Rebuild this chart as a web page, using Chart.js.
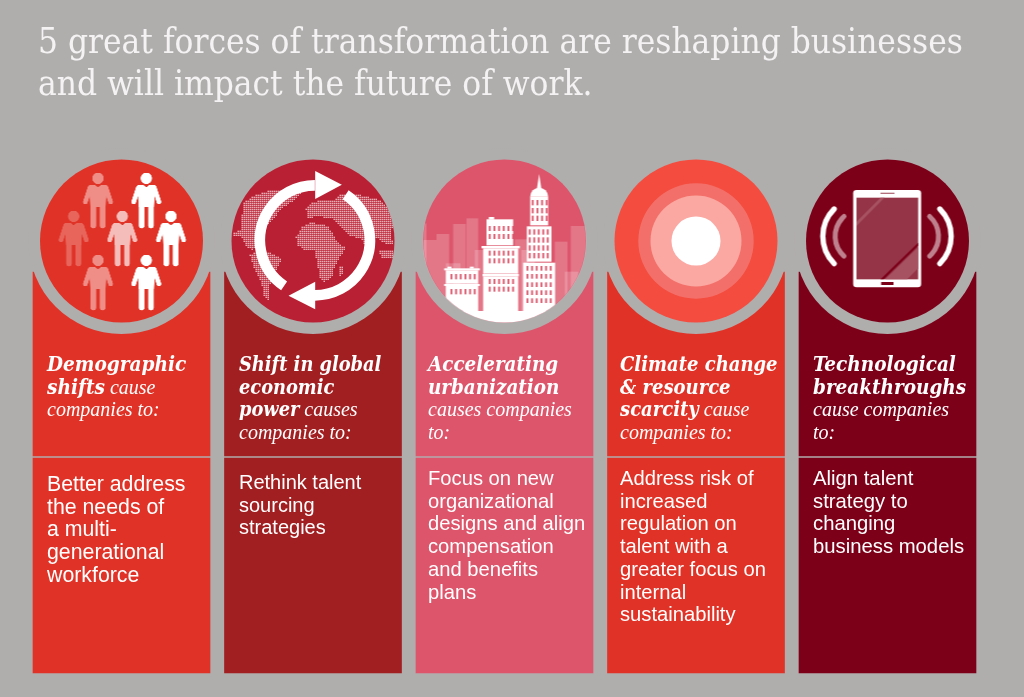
<!DOCTYPE html>
<html><head><meta charset="utf-8">
<style>html,body{margin:0;padding:0;background:#b0adad;overflow:hidden}canvas{display:block}</style>
<script src="https://cdn.jsdelivr.net/npm/chart.js@4/dist/chart.umd.min.js"></script>
</head><body>
<canvas id="c" width="1024" height="697"></canvas>
<script>
const categories = ['Demographic shifts','Shift in global economic power','Accelerating urbanization','Climate change & resource scarcity','Technological breakthroughs'];
const headerSpans = [[272,456],[272,456],[272,456],[272,456],[272,456]];
const bodySpans = [[458,673],[458,673],[458,673],[458,673],[458,673]];
const headerColors = ['#e03226','#a11e21','#dd556b','#e03226','#7d0019'];
const bodyColors = ['#e03226','#a11e21','#dd556b','#e03226','#7d0019'];
const discColors = ['#e03226','#b92033','#dd556b','#f44c3f','#7d0019'];
const discCentre = 241;
const titleLines = ['5 great forces of transformation are reshaping businesses','and will impact the future of work.'];
const headings = [
 [['Demographic',''],['shifts',' cause'],['','companies to:']],
 [['Shift in global',''],['economic',''],['power',' causes'],['','companies to:']],
 [['Accelerating',''],['urbanization',''],['','causes companies'],['','to:']],
 [['Climate change',''],['& resource',''],['scarcity',' cause'],['','companies to:']],
 [['Technological',''],['breakthroughs',''],['','cause companies'],['','to:']]
];
const bodies = [
 ['Better address','the needs of','a multi-','generational','workforce'],
 ['Rethink talent','sourcing','strategies'],
 ['Focus on new','organizational','designs and align','compensation','and benefits','plans'],
 ['Address risk of','increased','regulation on','talent with a','greater focus on','internal','sustainability'],
 ['Align talent','strategy to','changing','business models']
];

const BG='#b0adad';
function icon(cx,cy,draw){
  const cv=document.createElement('canvas');cv.width=190;cv.height=190;
  const g=cv.getContext('2d');
  g.translate(95,95);
  g.save();g.beginPath();g.arc(0,0,81.5,0,Math.PI*2);g.clip();
  g.scale(1/3,1/3);g.translate(-cx,-cy);
  draw(g);g.restore();
  return cv;
}
function person(g,x,y,a){
  const off=document.createElement('canvas');off.width=240;off.height=300;
  const o=off.getContext('2d');
  o.translate(120,60);
  o.fillStyle='#fff';o.strokeStyle='#fff';o.lineCap='round';o.lineJoin='round';
  o.beginPath();o.arc(0,0,17,0,7);o.fill();
  o.beginPath();
  o.moveTo(-27,20);o.lineTo(-10,19);o.lineTo(0,27);o.lineTo(10,19);o.lineTo(27,20);
  o.lineTo(23,85);o.lineTo(-23,85);o.closePath();o.fill();
  o.lineWidth=14;
  o.beginPath();o.moveTo(-24,28);o.lineTo(-38,71);o.stroke();
  o.beginPath();o.moveTo(24,28);o.lineTo(38,71);o.stroke();
  o.lineWidth=17;
  o.beginPath();o.moveTo(-14,80);o.lineTo(-14,142);o.stroke();
  o.beginPath();o.moveTo(14,80);o.lineTo(14,142);o.stroke();
  g.save();g.globalAlpha=a;g.drawImage(off,x-120,y-60);g.restore();
}
const peopleIcon=icon(274.5,273,g=>{
  [[204,85,.45],[349,85,1],[131,199,.25],[277,199,.68],[423,199,1],[204,331,.45],[349,331,1]].forEach(p=>person(g,p[0],p[1],p[2]));
});
function poly(g,pts){g.moveTo(pts[0],pts[1]);for(let i=2;i<pts.length;i+=2)g.lineTo(pts[i],pts[i+1]);g.closePath();}
const land=[
 [228,262,245,232,270,218,300,222,325,230,340,255,358,285,378,290,360,320,345,345,335,385,312,397,300,385,290,335,283,300,250,298,232,285],
 [258,178,275,160,300,150,345,150,360,135,420,135,480,150,510,185,520,225,510,255,520,285,495,280,470,265,440,290,420,265,395,260,375,245,352,222,335,205,290,200,262,205],
 [95,140,150,120,250,125,215,155,185,175,165,200,140,225,125,270,100,300,80,290,65,260,40,262,38,250,60,240,70,160],
 [88,315,120,300,150,310,185,325,165,365,150,400,145,450,130,440,125,400,100,350],
 [475,300,520,300,520,325,485,325],[360,350,372,350,365,380,355,378]
];
const globeIcon=icon(278.4,273,g=>{
  const off=document.createElement('canvas');off.width=600;off.height=600;
  const o=off.getContext('2d');
  o.beginPath();land.forEach(p=>poly(o,p));
  g.fillStyle='rgba(255,255,255,.72)';
  for(let x=30;x<530;x+=6)for(let y=100;y<470;y+=6){
    if(o.isPointInPath(x,y))g.fillRect(x-2,y-2,4,4);
  }
  const d=Math.PI/180,cx=284,cy=271,r=165;
  g.strokeStyle='#fff';g.lineWidth=32;
  g.beginPath();g.arc(cx,cy,r,124*d,270*d);g.stroke();
  g.beginPath();g.arc(cx,cy,r,-56*d,90*d);g.stroke();
  g.fillStyle='#fff';
  g.beginPath();poly(g,[285,63,365,104,285,147]);g.fill();
  g.beginPath();poly(g,[285,395,205,437,285,478]);g.fill();
});
const cityColor='#dd556b';
function windows(g,x0,pitch,n,rows,h){
  g.fillStyle=cityColor;
  rows.forEach(y=>{for(let i=0;i<n;i++)g.fillRect(x0+i*pitch,y,5.5,h);});
  g.fillStyle='#fff';
}
const cityIcon=icon(279,273,g=>{
  g.fillStyle='rgba(255,255,255,.2)';
  [[35,220,10,300],[35,270,40,250],[75,252,38,270],[125,222,38,300],[165,205,35,320],[190,300,30,220],[103,340,44,180],[310,268,40,250],[330,300,40,220],[430,275,38,250],[478,228,50,300],[460,365,40,160]]
   .forEach(b=>g.fillRect(b[0],b[1],b[2],b[3]));
  g.fillStyle='#fff';
  g.fillRect(0,483,600,100);
  g.fillRect(98,355,107,6);g.fillRect(108,350,12,6);g.fillRect(175,350,12,6);
  g.fillRect(103,361,97,40);g.fillRect(98,402,107,6);g.fillRect(103,408,97,80);
  windows(g,117,14,6,[372,417],16);
  g.fillRect(225,208,80,78);g.fillRect(232,201,16,8);
  g.fillRect(210,288,115,7);g.fillRect(215,295,105,76);g.fillRect(213,372,109,7);g.fillRect(215,379,105,108);
  windows(g,232,14,6,[228,252,302,325,387,410],15);
  g.beginPath();poly(g,[383,72,376,118,390,118]);g.fill();
  g.beginPath();g.arc(383,140,27,Math.PI,0);g.fill();
  g.fillRect(356,140,54,86);g.fillRect(346,229,74,106);g.fillRect(335,338,96,150);
  windows(g,361,14,4,[150,174,197],16);
  windows(g,352,13.5,5,[238,262,286,309],16);
  windows(g,345,14,6,[348,372,397,421,445],14);
});
const techIcon=icon(279,273,g=>{
  const d=Math.PI/180;
  g.lineCap='round';g.strokeStyle='#fff';
  g.fillStyle='#fff';
  g.beginPath();g.roundRect(176,120,204,292,10);g.fill();
  g.fillStyle='#953447';g.fillRect(186,143,185,245);
  g.fillStyle='#a65261';g.beginPath();poly(g,[186,228,270,143,258,143,186,215]);g.fill();
  g.fillStyle='#7d0019';g.beginPath();poly(g,[258,388,371,278,371,287,268,388]);g.fill();
  g.fillStyle='#a65261';g.beginPath();poly(g,[272,388,371,292,371,355,338,388]);g.fill();
  g.fillStyle='#b5707d';g.fillRect(258,128,42,4);
  g.fillStyle='#7d0019';g.fillRect(260,396,37,9);
  g.lineWidth=16;
  g.beginPath();g.arc(201,259,116,135*d,225*d);g.stroke();
  g.beginPath();g.arc(354,259,116,-45*d,45*d);g.stroke();
  g.globalAlpha=.5;g.lineWidth=15;
  g.beginPath();g.arc(202,259,80,132*d,228*d);g.stroke();
  g.beginPath();g.arc(352,259,80,-48*d,48*d);g.stroke();
});
const icons=[peopleIcon,globeIcon,cityIcon,null,techIcon];

const textPlugin={id:'text',afterDatasetsDraw(chart){
  const c=chart.ctx,xs=[47,239,428,620,813];
  c.save();c.textBaseline='alphabetic';c.textAlign='left';
  c.fillStyle='#f4f2f2';c.font='34.9px "DejaVu Serif Condensed","DejaVu Serif"';
  titleLines.forEach((t,i)=>c.fillText(t,38,53+i*42));
  c.fillStyle='#fff';
  const headSizes=[20.6,19.8,20.4,20,20.5];
  headings.forEach((lines,k)=>lines.forEach((l,i)=>{
    let x=xs[k];const y=371+i*22.7;
    if(l[0]){c.font='italic bold '+headSizes[k]+'px "DejaVu Serif Condensed","DejaVu Serif"';c.fillText(l[0],x,y);x+=c.measureText(l[0]).width;}
    if(l[1]){c.font='italic 20px "Liberation Serif"';c.fillText(l[1],x,y);}
  }));
  const starts=[491,489,485,485,485],sizes=[21.3,20,20.2,20.2,20.3];
  bodies.forEach((lines,k)=>lines.forEach((t,i)=>{c.font=sizes[k]+'px "Liberation Sans"';c.fillText(t,xs[k],starts[k]+i*22.7);}));
  c.restore();
}};

new Chart(document.getElementById('c'),{
  data:{labels:categories,datasets:[
    {type:'bubble',order:1,clip:false,data:categories.map((n,i)=>({x:n,y:discCentre,r:icons[i]?1:24.5})),
      pointStyle:icons.map(i=>i||'circle'),backgroundColor:'#fff',borderWidth:0},
    {type:'bubble',order:2,clip:false,data:[{x:categories[3],y:discCentre,r:45.5}],backgroundColor:'#fba8a3',borderWidth:0},
    {type:'bubble',order:3,clip:false,data:[{x:categories[3],y:discCentre,r:57.7}],backgroundColor:'#f3706a',borderWidth:0},
    {type:'bubble',order:4,clip:false,data:categories.map(n=>({x:n,y:discCentre,r:81.5})),backgroundColor:discColors,borderWidth:0},
    {type:'bubble',order:5,clip:false,data:categories.map(n=>({x:n,y:discCentre,r:93})),backgroundColor:BG,borderWidth:0},
    {type:'bar',order:6,data:headerSpans,backgroundColor:headerColors,barThickness:177,grouped:false,borderWidth:0},
    {type:'bar',order:7,data:bodySpans,backgroundColor:bodyColors,barThickness:177,grouped:false,borderWidth:0}
  ]},
  options:{responsive:false,animation:false,devicePixelRatio:1,
    layout:{autoPadding:false,padding:{left:25.75,right:40.75,top:0,bottom:0}},
    plugins:{legend:{display:false},title:{display:false},tooltip:{enabled:false}},
    events:[],
    scales:{x:{type:'category',offset:true,display:false},y:{type:'linear',min:0,max:697,reverse:true,display:false}}
  },
  plugins:[textPlugin,{id:'bg',beforeDraw(ch){ch.ctx.fillStyle=BG;ch.ctx.fillRect(0,0,1024,697);}}]
});
</script>
</body></html>
